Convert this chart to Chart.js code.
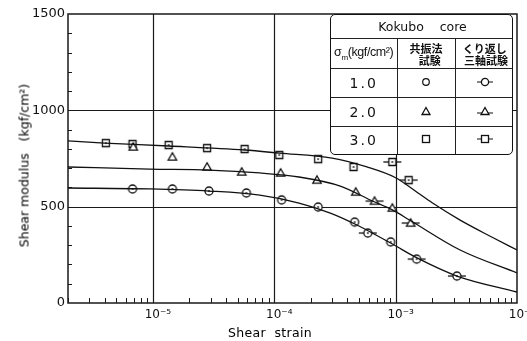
<!DOCTYPE html>
<html><head><meta charset="utf-8">
<script src="https://cdn.jsdelivr.net/npm/chart.js@4/dist/chart.umd.min.js"></script>
<style>
body{margin:0;background:#fff;}
#wrap{position:relative;width:527px;height:341px;overflow:hidden;background:#fff;}
#c{position:absolute;left:0;top:0;}
.lbl{position:absolute;font-family:"DejaVu Sans",sans-serif;font-weight:normal;color:#000;white-space:nowrap;}
#ytitle{left:-76px;top:158px;width:200px;text-align:center;font-size:12.5px;transform:rotate(-90deg);}
#xtitle{left:200px;top:325px;width:140px;text-align:center;font-size:12.5px;letter-spacing:0.3px;}
#leg{position:absolute;left:330px;top:14px;width:183px;height:141px;border:1.5px solid #111;border-radius:5px;background:#fff;box-sizing:border-box;overflow:hidden;}
#leg table{border-collapse:collapse;border-style:hidden;width:100%;height:100%;table-layout:fixed;}
#leg td{border:1.2px solid #222;text-align:center;padding:0;color:#111;}
.kk{font-family:"DejaVu Sans",sans-serif;font-size:12.5px;height:23px;}
.hd1{font-family:"Liberation Sans Narrow","Liberation Sans",sans-serif;font-size:12.5px;letter-spacing:-0.4px;white-space:nowrap;}
.jp{font-family:"Noto Sans CJK JP",sans-serif;font-size:11px;font-weight:bold;line-height:12px;}
.num{font-family:"DejaVu Sans",sans-serif;font-size:14px;letter-spacing:2px;}
</style>
</head><body>
<div id="wrap">
<canvas id="c" width="527" height="341"></canvas>
<div id="ytitle" class="lbl">Shear modulus&nbsp;&nbsp;&nbsp;(kgf/cm²)</div>
<div id="xtitle" class="lbl">Shear&nbsp;&nbsp;strain</div>
<div id="leg"><table>
<colgroup><col style="width:66px"><col style="width:58px"><col style="width:59px"></colgroup>
<tr><td colspan="3" class="kk">Kokubo&nbsp;&nbsp;&nbsp;&nbsp;core</td></tr>
<tr style="height:30px"><td class="hd1">σ<sub style="font-size:8px">m</sub>(kgf/cm²)</td><td class="jp">共振法<br>&nbsp;&nbsp;&nbsp;試験</td><td class="jp">くり返し<br>&nbsp;三軸試験</td></tr>
<tr><td class="num">1.0</td><td><svg width="12" height="12"><circle cx="6" cy="6" r="3.3" fill="none" stroke="#111" stroke-width="1.2"/></svg></td><td><svg width="22" height="12"><line x1="3" y1="6" x2="19" y2="6" stroke="#111" stroke-width="1.2"/><circle cx="11" cy="6" r="3.6" fill="#fff" stroke="#111" stroke-width="1.3"/></svg></td></tr>
<tr><td class="num">2.0</td><td><svg width="12" height="12"><polygon points="6,2.5 10,9.5 2,9.5" fill="none" stroke="#111" stroke-width="1.3"/></svg></td><td><svg width="22" height="12"><line x1="3" y1="8" x2="19" y2="8" stroke="#111" stroke-width="1.2"/><polygon points="11,2.5 15,9.5 7,9.5" fill="#fff" stroke="#111" stroke-width="1.3"/></svg></td></tr>
<tr><td class="num">3.0</td><td><svg width="12" height="12"><rect x="2.5" y="2.5" width="7" height="7" fill="none" stroke="#111" stroke-width="1.3"/></svg></td><td><svg width="22" height="12"><line x1="3" y1="6" x2="19" y2="6" stroke="#111" stroke-width="1.2"/><rect x="7.5" y="2.5" width="7" height="7" fill="#fff" stroke="#111" stroke-width="1.3"/></svg></td></tr>
</table></div>
</div>
<script>
// ---- data (strain, shear modulus kgf/cm2) ----
const xTickPowers = [-5, -4, -3, -2];
const yTickValues = [0, 500, 1000, 1500];

// fitted curves
const curve10Strain = [2e-6, 9.4e-6, 2.9e-5, 7.6e-5, 1.6e-4, 2.9e-4, 4.8e-4, 9.4e-4, 1.5e-3, 3.2e-3, 1e-2];
const curve10G      = [597, 592, 581, 560, 519, 467, 405, 306, 234, 140, 57];
const curve20Strain = [2e-6, 9.4e-6, 2.9e-5, 7.6e-5, 1.6e-4, 3.5e-4, 6.5e-4, 9.4e-4, 1.3e-3, 3.4e-3, 1e-2];
const curve20G      = [706, 695, 690, 675, 654, 607, 528, 483, 431, 275, 156];
const curve30Strain = [2e-6, 4e-6, 1.35e-5, 5.7e-5, 1.1e-4, 3e-4, 5.8e-4, 1e-3, 1.5e-3, 2e-3, 3.4e-3, 6.3e-3, 1e-2];
const curve30G      = [841, 830, 815, 794, 778, 752, 706, 650, 575, 520, 430, 340, 275];

// resonant column test
const res10Strain = [6.8e-6, 1.45e-5, 2.9e-5, 5.9e-5, 1.15e-4, 2.3e-4, 4.6e-4, 9.1e-4];
const res10G      = [592, 592, 581, 571, 535, 498, 420, 317];
const res20Strain = [6.9e-6, 1.45e-5, 2.8e-5, 5.4e-5, 1.13e-4, 2.25e-4, 4.7e-4, 9.4e-4];
const res20G      = [810, 758, 706, 680, 675, 638, 576, 493];
const res30Strain = [4.1e-6, 6.8e-6, 1.35e-5, 2.8e-5, 5.7e-5, 1.1e-4, 2.3e-4, 4.5e-4];
const res30G      = [830, 825, 820, 804, 799, 768, 747, 706];

// cyclic triaxial test
const tri10Strain = [5.9e-4, 1.49e-3, 3.2e-3];
const tri10G      = [363, 228, 140];
const tri20Strain = [6.7e-4, 1.33e-3];
const tri20G      = [529, 415];
const tri30Strain = [9.4e-4, 1.28e-3];
const tri30G      = [732, 638];

const pts = (xs, ys) => xs.map((x, i) => ({x, y: ys[i]}));

function marker(kind, dash) {
  const w = dash ? 20 : 12, h = 12;
  const c = document.createElement('canvas'); c.width = w; c.height = h;
  const g = c.getContext('2d');
  g.strokeStyle = '#111'; g.fillStyle = '#fff'; g.lineWidth = 1.3;
  const cx = w / 2, cy = h / 2;
  if (dash) { g.beginPath(); g.moveTo(1, cy); g.lineTo(w - 1, cy); g.stroke(); }
  g.beginPath();
  if (kind === 'c') { g.arc(cx, cy, 4, 0, Math.PI * 2); }
  else if (kind === 's') { g.rect(cx - 3.5, cy - 3.5, 7, 7); }
  else { g.moveTo(cx, cy - 4.2); g.lineTo(cx + 4.2, cy + 3.2); g.lineTo(cx - 4.2, cy + 3.2); g.closePath(); }
  g.fill(); g.stroke();
  if (kind !== 't') { g.fillStyle = '#111'; g.fillRect(cx - 0.8, cy - 0.8, 1.6, 1.6); }
  return c;
}

const curveDs = (xs, ys) => ({data: pts(xs, ys), showLine: true, pointRadius: 0, borderColor: '#111',
  borderWidth: 1.3, cubicInterpolationMode: 'monotone', fill: false});
const markDs = (xs, ys, st) => ({data: pts(xs, ys), showLine: false, pointStyle: st, pointRadius: 5,
  borderColor: '#111', backgroundColor: '#fff'});

const sup = s => s.split('').map(ch => ({'-': '⁻', '0': '⁰', '1': '¹', '2': '²', '3': '³', '4': '⁴', '5': '⁵', '6': '⁶', '7': '⁷', '8': '⁸', '9': '⁹'}[ch])).join('');

const framePlugin = {
  id: 'frame',
  beforeDatasetsDraw(chart) {
    const {ctx, chartArea: a, scales: {x, y}} = chart;
    ctx.save();
    ctx.strokeStyle = '#1a1a1a';
    ctx.lineWidth = 1.2;
    [500, 1000].forEach(v => { const p = Math.round(y.getPixelForValue(v)) + 0.5;
      ctx.beginPath(); ctx.moveTo(a.left, p); ctx.lineTo(a.right, p); ctx.stroke(); });
    xTickPowers.slice(0, 3).forEach(e => { const p = Math.round(x.getPixelForValue(Math.pow(10, e))) + 0.5;
      ctx.beginPath(); ctx.moveTo(p, a.top); ctx.lineTo(p, a.bottom); ctx.stroke(); });
    ctx.lineWidth = 1;
    for (let v = 100; v < 1500; v += 100) { const p = Math.round(y.getPixelForValue(v)) + 0.5;
      ctx.beginPath(); ctx.moveTo(a.left, p); ctx.lineTo(a.left + 4, p); ctx.stroke(); }
    for (let e = -6; e <= -3; e++) for (let k = 1; k <= 9; k++) {
      const v = k * Math.pow(10, e); if (v < x.min || v > x.max) continue;
      const p = Math.round(x.getPixelForValue(v)) + 0.5;
      ctx.beginPath(); ctx.moveTo(p, a.bottom); ctx.lineTo(p, a.bottom - 5); ctx.stroke(); }
    ctx.lineWidth = 1.5;
    ctx.strokeRect(a.left, a.top, a.right - a.left, a.bottom - a.top);
    ctx.restore();
  }
};

new Chart(document.getElementById('c'), {
  type: 'scatter',
  data: {datasets: [
    curveDs(curve10Strain, curve10G), curveDs(curve20Strain, curve20G), curveDs(curve30Strain, curve30G),
    markDs(res10Strain, res10G, marker('c', false)), markDs(res20Strain, res20G, marker('t', false)),
    markDs(res30Strain, res30G, marker('s', false)),
    markDs(tri10Strain, tri10G, marker('c', true)), markDs(tri20Strain, tri20G, marker('t', true)),
    markDs(tri30Strain, tri30G, marker('s', true))
  ]},
  options: {
    responsive: false, animation: false, devicePixelRatio: 1,
    layout: {padding: {left: 0, right: 10, top: 14, bottom: 0}},
    plugins: {legend: {display: false}, tooltip: {enabled: false}},
    scales: {
      x: {type: 'logarithmic', min: 2e-6, max: 1e-2,
        grid: {display: false, drawTicks: false}, border: {display: false},
        ticks: {autoSkip: false, maxRotation: 0, minRotation: 0, padding: 5, labelOffset: 5,
          color: '#111', font: {family: 'DejaVu Sans', size: 12},
          callback: v => { const l = Math.log10(v), r = Math.round(l);
            return (Math.abs(l - r) < 1e-6 && xTickPowers.includes(r)) ? '10' + sup(String(r)) : ''; }},
        afterFit: s => { s.height = 38; s.paddingLeft = 0; s.paddingRight = 0; }
      },
      y: {min: 0, max: 1500,
        grid: {display: false, drawTicks: false}, border: {display: false},
        ticks: {stepSize: 500, padding: 3, color: '#111', font: {family: 'DejaVu Sans', size: 13},
          callback: v => yTickValues.includes(v) ? String(v) : ''},
        afterFit: s => { s.width = 68; s.paddingTop = 0; s.paddingBottom = 0; }
      }
    }
  },
  plugins: [framePlugin]
});
</script>
</body></html>
